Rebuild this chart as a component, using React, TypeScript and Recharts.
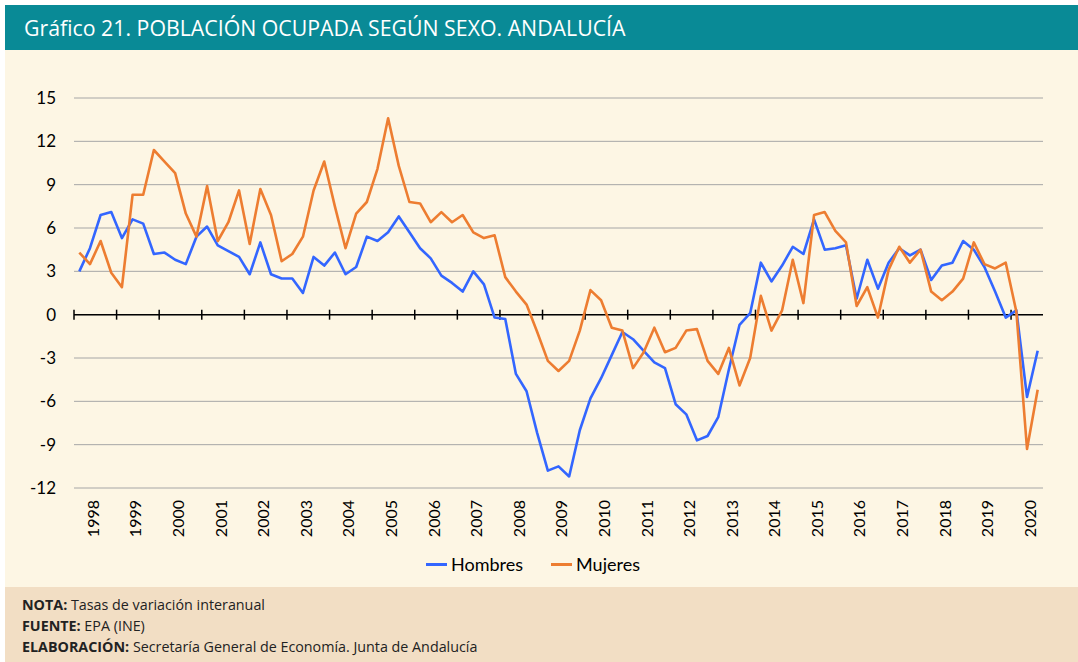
import { CartesianGrid, Line, LineChart, ReferenceLine, XAxis, YAxis } from "recharts";

// Tasas de variación interanual, trimestres 1998T1 - 2020T3
const years = [
	1998, 1999, 2000, 2001, 2002, 2003, 2004, 2005, 2006, 2007, 2008, 2009,
	2010, 2011, 2012, 2013, 2014, 2015, 2016, 2017, 2018, 2019, 2020,
];

const hombres = [
	3.0, 4.6, 6.9, 7.1, 5.3, 6.6, 6.3, 4.2, 4.3, 3.8, 3.5, 5.4, 6.1, 4.8, 4.4,
	4.0, 2.8, 5.0, 2.8, 2.5, 2.5, 1.5, 4.0, 3.4, 4.3, 2.8, 3.3, 5.4, 5.1, 5.7,
	6.8, 5.7, 4.6, 3.9, 2.7, 2.2, 1.6, 3.0, 2.1, -0.2, -0.3, -4.1, -5.3, -8.2,
	-10.8, -10.5, -11.2, -8.0, -5.8, -4.4, -2.8, -1.2, -1.7, -2.5, -3.3, -3.7,
	-6.2, -6.9, -8.7, -8.4, -7.1, -3.8, -0.7, 0.1, 3.6, 2.3, 3.4, 4.7, 4.2, 6.6,
	4.5, 4.6, 4.8, 1.1, 3.8, 1.8, 3.6, 4.6, 4.1, 4.5, 2.4, 3.4, 3.6, 5.1, 4.5,
	3.3, 1.6, -0.2, 0.3, -5.7, -2.5,
];

const mujeres = [
	4.3, 3.5, 5.1, 2.9, 1.9, 8.3, 8.3, 11.4, 10.6, 9.8, 7.0, 5.4, 8.9, 5.1, 6.4,
	8.6, 4.9, 8.7, 6.9, 3.7, 4.2, 5.4, 8.6, 10.6, 7.5, 4.6, 7.0, 7.8, 10.1, 13.6,
	10.3, 7.8, 7.7, 6.4, 7.1, 6.4, 6.9, 5.7, 5.3, 5.5, 2.6, 1.6, 0.7, -1.2, -3.2,
	-3.9, -3.2, -1.1, 1.7, 1.0, -0.9, -1.1, -3.7, -2.6, -0.9, -2.6, -2.3, -1.1,
	-1.0, -3.2, -4.1, -2.3, -4.9, -3.0, 1.3, -1.1, 0.3, 3.8, 0.8, 6.9, 7.1, 5.8,
	5.0, 0.6, 1.9, -0.2, 3.1, 4.7, 3.6, 4.5, 1.6, 1.0, 1.6, 2.5, 5.0, 3.5, 3.2,
	3.6, 0.2, -9.3, -5.2,
];

const yTicks = [-12, -9, -6, -3, 0, 3, 6, 9, 12, 15];

const series = [
	{ key: "hombres", name: "Hombres", color: "#3366FF" },
	{ key: "mujeres", name: "Mujeres", color: "#ED7D31" },
];

const data = hombres.map((h, i) => ({
	idx: i,
	trimestre: `${years[Math.floor(i / 4)]}T${(i % 4) + 1}`,
	hombres: h,
	mujeres: mujeres[i],
}));

// categories sit between tick marks, like the Excel original
const DOMAIN: [number, number] = [-0.5, hombres.length - 0.5];
const yearTicks = years.map((_, k) => k * 4 + 1.5);
const yearBounds = years.map((_, k) => k * 4 - 0.5);

const CHART_FONT = "Lato, 'Open Sans', sans-serif";

function YearTick({ x, y, payload }: any) {
	const label = years[Math.floor(payload.value / 4)];
	const cx = x - 3;
	return (
		<text
			x={cx}
			y={y}
			transform={`rotate(-90 ${cx} ${y})`}
			textAnchor="end"
			dominantBaseline="central"
			fontSize={16}
			fontFamily={CHART_FONT}
			fill="#000"
		>
			{label}
		</text>
	);
}

// zero line with the year tick marks crossing it
function ZeroAxis(props: any) {
	const { x1, x2, y1 } = props;
	const span = DOMAIN[1] - DOMAIN[0];
	return (
		<g>
			<line x1={x1} x2={x2} y1={y1} y2={y1} stroke="#000" strokeWidth={1.5} />
			{yearBounds.map((b) => {
				const x = x1 + ((x2 - x1) * (b - DOMAIN[0])) / span;
				return (
					<line
						key={b}
						x1={x}
						x2={x}
						y1={y1 - 5}
						y2={y1 + 5}
						stroke="#000"
						strokeWidth={1.5}
					/>
				);
			})}
		</g>
	);
}

export default function App() {
	return (
		<div
			style={{
				position: "absolute",
				left: 0,
				top: 0,
				width: 1078,
				height: 662,
				background: "#fff",
				overflow: "hidden",
			}}
		>
			<div
				style={{
					position: "absolute",
					left: 5,
					top: 5,
					width: 1073,
					height: 45,
					background: "#098A96",
					color: "#fff",
					fontFamily: "'Open Sans', sans-serif",
					fontSize: 21.3,
					lineHeight: "46px",
					paddingLeft: 19,
					boxSizing: "border-box",
					whiteSpace: "nowrap",
				}}
			>
				Gráfico 21. POBLACIÓN OCUPADA SEGÚN SEXO. ANDALUCÍA
			</div>
			<div
				style={{
					position: "absolute",
					left: 5,
					top: 50,
					width: 1073,
					height: 537,
					background: "#FDF6E4",
				}}
			/>
			<div
				style={{
					position: "absolute",
					left: 5,
					top: 587,
					width: 1073,
					height: 75,
					background: "#F2DEC4",
					fontFamily: "'Open Sans', sans-serif",
					fontSize: 14.3,
					lineHeight: "21px",
					color: "#222",
					paddingTop: 7,
					paddingLeft: 17,
					boxSizing: "border-box",
				}}
			>
				<div>
					<b>NOTA:</b> Tasas de variación interanual
				</div>
				<div>
					<b>FUENTE:</b> EPA (INE)
				</div>
				<div>
					<b>ELABORACIÓN:</b> Secretaría General de Economía. Junta de Andalucía
				</div>
			</div>

			<div style={{ position: "absolute", left: 0, top: 0 }}>
				<LineChart
					width={1078}
					height={662}
					data={data}
					margin={{ top: 98, right: 35, left: 14, bottom: 114 }}
				>
					<CartesianGrid
						vertical={false}
						stroke="#A6A6A6"
						strokeWidth={1}
					/>
					<XAxis
						dataKey="idx"
						type="number"
						domain={DOMAIN}
						ticks={yearTicks}
						interval={0}
						height={60}
						axisLine={false}
						tickLine={false}
						tickSize={0}
						tickMargin={12}
						tick={<YearTick />}
					/>
					<YAxis
						domain={[-12, 15]}
						ticks={yTicks}
						interval={0}
						width={60}
						axisLine={false}
						tickLine={false}
						tickSize={0}
						tickMargin={18}
						tick={{ fontSize: 17, fill: "#000", fontFamily: CHART_FONT }}
					/>
					<ReferenceLine y={0} shape={<ZeroAxis />} />
					{series.map((s) => (
						<Line
							key={s.key}
							type="linear"
							dataKey={s.key}
							name={s.name}
							stroke={s.color}
							strokeWidth={2.6}
							strokeLinejoin="round"
							dot={false}
							isAnimationActive={false}
						/>
					))}
				</LineChart>
			</div>

			<div
				style={{
					position: "absolute",
					left: 426,
					top: 553,
					display: "flex",
					gap: 28,
					fontFamily: CHART_FONT,
					fontSize: 18,
					color: "#000",
				}}
			>
				{series.map((s) => (
					<div key={s.key} style={{ display: "flex", alignItems: "center" }}>
						<span
							style={{
								display: "inline-block",
								width: 21,
								height: 3,
								background: s.color,
								marginRight: 4,
							}}
						/>
						{s.name}
					</div>
				))}
			</div>
		</div>
	);
}
